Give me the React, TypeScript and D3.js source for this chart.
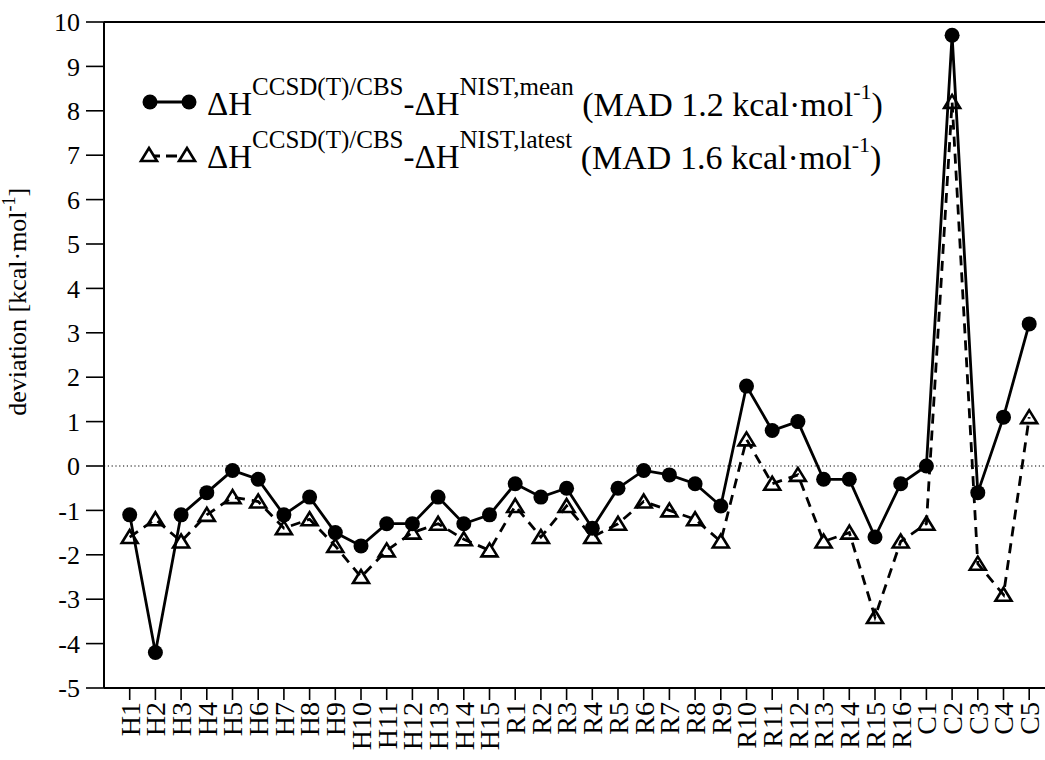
import React from "react";
import * as d3 from "d3";

const categories = ["H1","H2","H3","H4","H5","H6","H7","H8","H9","H10","H11","H12","H13","H14","H15","R1","R2","R3","R4","R5","R6","R7","R8","R9","R10","R11","R12","R13","R14","R15","R16","C1","C2","C3","C4","C5"];
const meanValues = [-1.1,-4.2,-1.1,-0.6,-0.1,-0.3,-1.1,-0.7,-1.5,-1.8,-1.3,-1.3,-0.7,-1.3,-1.1,-0.4,-0.7,-0.5,-1.4,-0.5,-0.1,-0.2,-0.4,-0.9,1.8,0.8,1.0,-0.3,-0.3,-1.6,-0.4,0.0,9.7,-0.6,1.1,3.2];
const latestValues = [-1.6,-1.2,-1.7,-1.1,-0.7,-0.8,-1.4,-1.2,-1.8,-2.5,-1.9,-1.5,-1.3,-1.65,-1.9,-0.9,-1.6,-0.9,-1.6,-1.3,-0.8,-1.0,-1.2,-1.7,0.6,-0.4,-0.2,-1.7,-1.5,-3.4,-1.7,-1.3,8.2,-2.2,-2.9,1.1];
const yTicks = [-5,-4,-3,-2,-1,0,1,2,3,4,5,6,7,8,9,10];

const W = 1045, H = 760;
const left = 104, top = 22, bottom = 688;
const FONT = "Liberation Serif";

export default function App() {
  const x = d3.scalePoint<string>().domain(categories).range([left, left + 37 * 25.7]).padding(1);
  const y = d3.scaleLinear().domain([-5, 10]).range([bottom, top]);
  const line = d3.line<number>().x((_, i) => x(categories[i])!).y((v) => y(v));
  const tri = (cx: number, cy: number) => `M${cx},${cy - 7}L${cx - 8},${cy + 6}L${cx + 8},${cy + 6}Z`;

  const big = 33, small = 25;

  const legendRow = (yb: number, tag: string, mad: string) => (
    <text x={207} y={yb} style={{ fontFamily: FONT, fontSize: big }} fill="#000">
      <tspan>ΔH</tspan>
      <tspan style={{ fontSize: small }} dy={-20}>CCSD(T)/CBS</tspan>
      <tspan dy={20}>-ΔH</tspan>
      <tspan style={{ fontSize: small }} dy={-20}>{tag}</tspan>
      <tspan dy={21} style={{ fontSize: 34 }}>{"\u00a0(MAD " + mad + " kcal\u00b7mol"}</tspan>
      <tspan style={{ fontSize: 22 }} dy={-17}>-1</tspan>
      <tspan dy={17} style={{ fontSize: 34 }}>)</tspan>
    </text>
  );

  return (
    <svg width={W} height={H} style={{ position: "absolute", left: 0, top: 0, background: "#fff", fontFamily: FONT }}>
      <rect x={0} y={0} width={W} height={H} fill="#fff" />
      <line x1={left} x2={W} y1={y(0)} y2={y(0)} stroke="#000" strokeWidth={1.2} strokeDasharray="1.2,2.6" />
      <line x1={left} x2={W} y1={top} y2={top} stroke="#000" strokeWidth={2} />
      <line x1={left} x2={W} y1={bottom} y2={bottom} stroke="#000" strokeWidth={2} />
      <line x1={left} x2={left} y1={top} y2={bottom} stroke="#000" strokeWidth={2} />
      {yTicks.map((t) => (
        <g key={t}>
          <line x1={left - 18} x2={left} y1={y(t)} y2={y(t)} stroke="#000" strokeWidth={1.6} />
          <text x={left - 24} y={y(t)} dy="0.35em" textAnchor="end" style={{ fontFamily: FONT, fontSize: 26 }} fill="#000">{t}</text>
        </g>
      ))}
      {categories.map((c) => (
        <g key={c}>
          <line x1={x(c)!} x2={x(c)!} y1={bottom} y2={bottom + 12} stroke="#000" strokeWidth={1.6} />
          <text transform={`translate(${x(c)!},${bottom + 14}) rotate(-90)`} dy="0.35em" textAnchor="end" style={{ fontFamily: FONT, fontSize: 28 }} fill="#000">{c}</text>
        </g>
      ))}
      <text transform={`translate(26,${y(3.7)}) rotate(-90)`} textAnchor="middle" style={{ fontFamily: FONT, fontSize: 26 }} fill="#000">
        <tspan>deviation [kcal·mol</tspan>
        <tspan style={{ fontSize: 18 }} dy={-11}>-1</tspan>
        <tspan dy={11}>]</tspan>
      </text>
      <path d={line(latestValues)!} fill="none" stroke="#000" strokeWidth={2.8} strokeDasharray="10,7" />
      {latestValues.map((v, i) => (
        <path key={i} d={tri(x(categories[i])!, y(v))} fill="none" stroke="#000" strokeWidth={2.6} />
      ))}
      <path d={line(meanValues)!} fill="none" stroke="#000" strokeWidth={2.8} />
      {meanValues.map((v, i) => (
        <circle key={i} cx={x(categories[i])!} cy={y(v)} r={7.5} fill="#000" />
      ))}
      <line x1={150} x2={189} y1={102} y2={102} stroke="#000" strokeWidth={2.8} />
      <circle cx={150} cy={102} r={7.5} fill="#000" />
      <circle cx={189} cy={102} r={7.5} fill="#000" />
      {legendRow(115, "NIST,mean", "1.2")}
      <line x1={149} x2={187} y1={156} y2={156} stroke="#000" strokeWidth={2.8} strokeDasharray="11,6" />
      <path d={tri(149, 155)} fill="#fff" stroke="#000" strokeWidth={2.6} />
      <path d={tri(187, 155)} fill="#fff" stroke="#000" strokeWidth={2.6} />
      {legendRow(168, "NIST,latest", "1.6")}
    </svg>
  );
}
